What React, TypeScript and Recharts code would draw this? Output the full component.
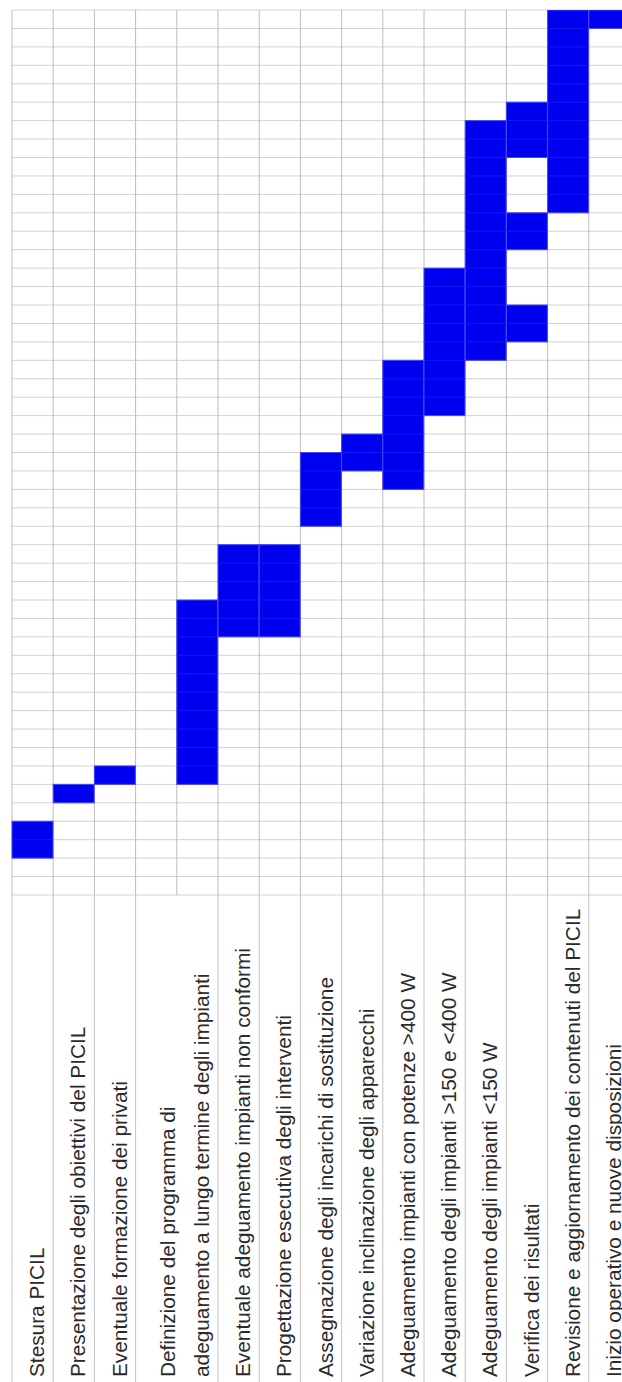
import React from 'react';
import { BarChart, Bar, XAxis, YAxis, CartesianGrid } from 'recharts';

// task labels, one entry per column (a blank column belongs to the merged cell on its right)
const taskLines: string[][] = [
  ['Stesura PICIL'],
  ['Presentazione degli obiettivi del PICIL'],
  ['Eventuale formazione dei privati'],
  [],
  ['Definizione del programma di', 'adeguamento a lungo termine degli impianti'],
  ['Eventuale adeguamento impianti non conformi'],
  ['Progettazione esecutiva degli interventi'],
  ['Assegnazione degli incarichi di sostituzione'],
  ['Variazione inclinazione degli apparecchi'],
  ['Adeguamento impianti con potenze >400 W'],
  ['Adeguamento degli impianti >150 e <400 W'],
  ['Adeguamento degli impianti <150 W'],
  ['Verifica dei risultati'],
  ['Revisione e aggiornamento dei contenuti del PICIL'],
  ['Inizio operativo e nuove disposizioni'],
];

// periods (rows of the sheet, counted from the bottom)
const firstStart = [2, 5, 6, null, 6, 14, 14, 20, 23, 22, 26, 29, 30, 37, 47];
const firstEnd = [4, 6, 7, null, 16, 19, 19, 24, 25, 29, 34, 42, 32, 48, 48];
const secondStart = [null, null, null, null, null, null, null, null, null, null, null, null, 35, null, null];
const secondEnd = [null, null, null, null, null, null, null, null, null, null, null, null, 37, null, null];
const thirdStart = [null, null, null, null, null, null, null, null, null, null, null, null, 40, null, null];
const thirdEnd = [null, null, null, null, null, null, null, null, null, null, null, null, 43, null, null];

const periods = Array.from({ length: 49 }, (_, i) => i);
const TOTAL = 48;

const rows = taskLines.map((lines, i) => {
  const s1 = firstStart[i], e1 = firstEnd[i];
  const s2 = secondStart[i], e2 = secondEnd[i];
  const s3 = thirdStart[i], e3 = thirdEnd[i];
  return {
    task: lines.join(' '),
    gap1: s1 ?? 0,
    bar1: s1 != null && e1 != null ? e1 - s1 : 0,
    gap2: s2 != null && e1 != null ? s2 - e1 : 0,
    bar2: s2 != null && e2 != null ? e2 - s2 : 0,
    gap3: s3 != null && e2 != null ? s3 - e2 : 0,
    bar3: s3 != null && e3 != null ? e3 - s3 : 0,
  };
});

const W = 630;
const H = 1382;
const M = { top: 10, right: 0, bottom: 0, left: 12 };
const AXIS_H = 487;
const COL_W = (W - M.left - M.right) / taskLines.length;
const BLUE = '#0000f0';
const GRID = '#c4c4c4';

const TaskTick = (props: any) => {
  const { x, y, index } = props;
  const lines = taskLines[index] ?? [];
  const right = x + COL_W / 2;
  const left = x - COL_W / 2;
  const bottom = y + AXIS_H;
  return (
    <g>
      {index === 0 && <line x1={left} x2={left} y1={y} y2={bottom} stroke={GRID} />}
      {lines.length > 0 && <line x1={right} x2={right} y1={y} y2={bottom} stroke={GRID} />}
      {lines.map((t, i) => (
        <text
          key={i}
          transform={`translate(${right - 9 - (lines.length - 1 - i) * 34}, ${bottom - 5}) rotate(-90)`}
          fontFamily="'Liberation Sans', Arial, sans-serif"
          fontSize={20.8}
          fill="#2b2b2b"
        >
          {t}
        </text>
      ))}
    </g>
  );
};

const block = (key: string) => (p: any) => {
  const { x, y, width, height, payload } = p;
  if (!height || height <= 0) return <g />;
  const n = payload[key] || 1;
  const step = height / n;
  return (
    <g>
      <rect x={x} y={y} width={width} height={height} fill={BLUE} stroke="#4646f4" strokeWidth={1} />
      {Array.from({ length: n - 1 }, (_, k) => (
        <line key={k} x1={x} x2={x + width} y1={y + step * (k + 1)} y2={y + step * (k + 1)} stroke="#1616f1" strokeWidth={1} />
      ))}
    </g>
  );
};

export default function App() {
  return (
    <div style={{ position: 'absolute', left: 0, top: 0, width: 622, height: H, overflow: 'hidden', background: '#fff' }}>
      <BarChart width={W} height={H} data={rows} margin={M} barCategoryGap={0} barGap={0}>
        <CartesianGrid
          vertical={false}
          stroke="#d2d2d2"
          horizontalCoordinatesGenerator={({ offset }: any) =>
            periods.map((t) => offset.top + offset.height * (1 - t / TOTAL))
          }
        />
        <CartesianGrid
          horizontal={false}
          stroke="#bcbcbc"
          verticalCoordinatesGenerator={({ offset }: any) =>
            Array.from({ length: taskLines.length + 1 }, (_, i) => offset.left + (i * offset.width) / taskLines.length)
          }
        />
        <XAxis
          dataKey="task"
          height={AXIS_H}
          interval={0}
          tickLine={false}
          axisLine={false}
          tickSize={0}
          tickMargin={0}
          tick={TaskTick}
        />
        <YAxis hide type="number" domain={[0, TOTAL]} allowDataOverflow />
        <Bar dataKey="gap1" stackId="t" fill="none" isAnimationActive={false} />
        <Bar dataKey="bar1" stackId="t" fill={BLUE} shape={block('bar1')} isAnimationActive={false} />
        <Bar dataKey="gap2" stackId="t" fill="none" isAnimationActive={false} />
        <Bar dataKey="bar2" stackId="t" fill={BLUE} shape={block('bar2')} isAnimationActive={false} />
        <Bar dataKey="gap3" stackId="t" fill="none" isAnimationActive={false} />
        <Bar dataKey="bar3" stackId="t" fill={BLUE} shape={block('bar3')} isAnimationActive={false} />
      </BarChart>
    </div>
  );
}
